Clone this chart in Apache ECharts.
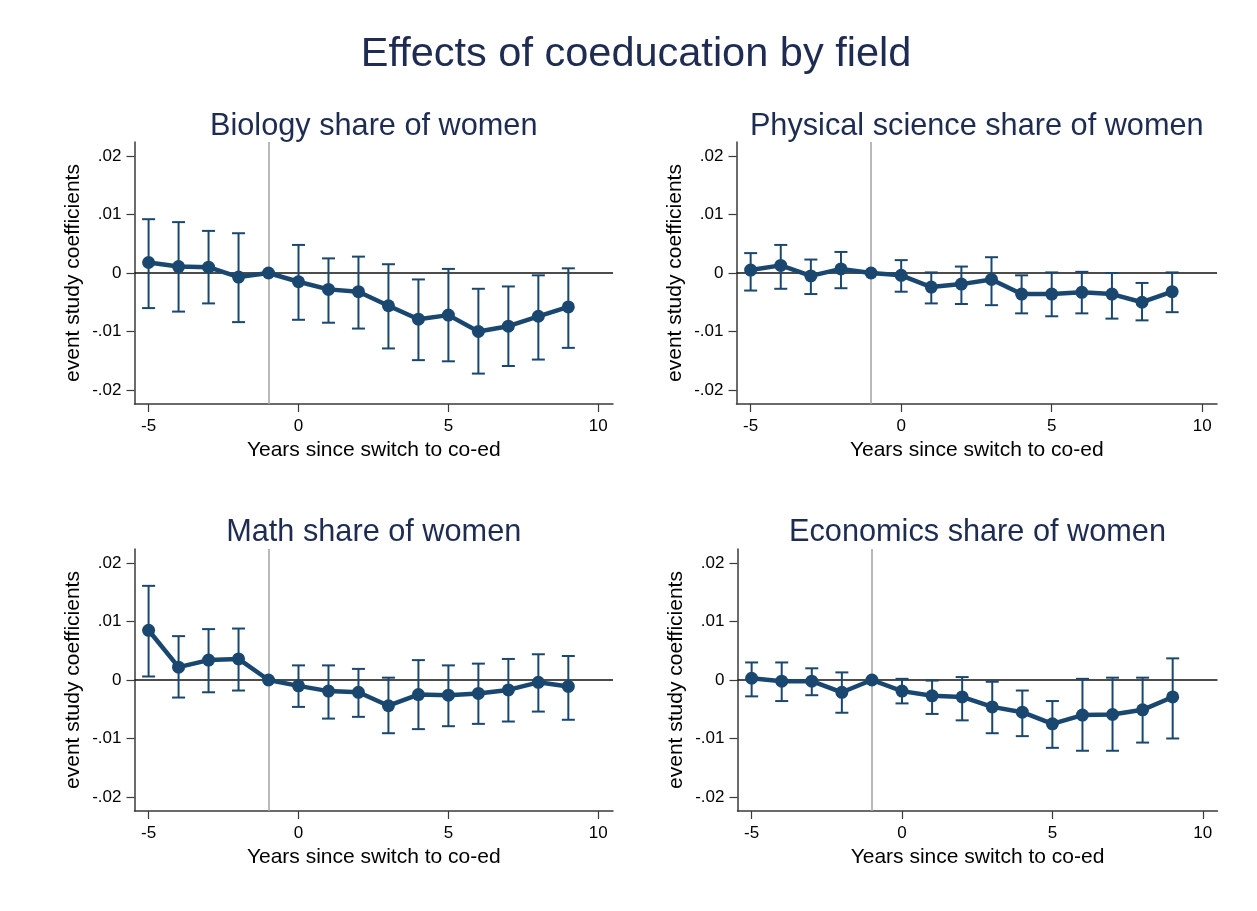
<!DOCTYPE html>
<html>
<head>
<meta charset="utf-8">
<title>Effects of coeducation by field</title>
<script src="https://cdn.jsdelivr.net/npm/echarts@6/dist/echarts.min.js"></script>
<style>
  html, body { margin: 0; padding: 0; background: #ffffff; }
  #chart { width: 1257px; height: 911px; }
</style>
</head>
<body>
<div id="chart"></div>
<script>
// Event-study years relative to the switch to coeducation (-1 is the omitted year)
const years = [-5, -4, -3, -2, -1, 0, 1, 2, 3, 4, 5, 6, 7, 8, 9];
const xTicks = [-5, 0, 5, 10];
const yTicks = [-0.02, -0.01, 0, 0.01, 0.02];

// Biology share of women
const bioCoef = [0.0018, 0.0011, 0.0010, -0.0007, 0, -0.0015, -0.0028, -0.0032, -0.0056, -0.0079, -0.0072, -0.0100, -0.0091, -0.0074, -0.0058];
const bioHigh = [0.0092, 0.0087, 0.0072, 0.0068, null, 0.0048, 0.0025, 0.0028, 0.0015, -0.0011, 0.0007, -0.0027, -0.0023, -0.0004, 0.0008];
const bioLow  = [-0.0060, -0.0066, -0.0052, -0.0084, null, -0.0080, -0.0085, -0.0095, -0.0129, -0.0149, -0.0151, -0.0172, -0.0159, -0.0148, -0.0128];

// Physical science share of women
const physCoef = [0.0005, 0.0013, -0.0005, 0.0007, 0, -0.0004, -0.0024, -0.0019, -0.0011, -0.0036, -0.0036, -0.0033, -0.0036, -0.0050, -0.0032];
const physHigh = [0.0034, 0.0048, 0.0023, 0.0036, null, 0.0022, 0.0001, 0.0011, 0.0027, -0.0004, 0.0001, 0.0002, 0.0000, -0.0017, 0.0001];
const physLow  = [-0.0030, -0.0027, -0.0036, -0.0026, null, -0.0032, -0.0052, -0.0053, -0.0055, -0.0069, -0.0074, -0.0069, -0.0078, -0.0081, -0.0067];

// Math share of women
const mathCoef = [0.0085, 0.0022, 0.0034, 0.0036, 0, -0.0010, -0.0019, -0.0021, -0.0044, -0.0025, -0.0026, -0.0023, -0.0017, -0.0004, -0.0011];
const mathHigh = [0.0161, 0.0075, 0.0087, 0.0088, null, 0.0025, 0.0025, 0.0019, 0.0004, 0.0034, 0.0025, 0.0028, 0.0036, 0.0044, 0.0041];
const mathLow  = [0.0006, -0.0030, -0.0021, -0.0018, null, -0.0046, -0.0066, -0.0063, -0.0091, -0.0084, -0.0079, -0.0075, -0.0071, -0.0054, -0.0068];

// Economics share of women
const econCoef = [0.0003, -0.0002, -0.0002, -0.0021, 0, -0.0019, -0.0027, -0.0029, -0.0046, -0.0055, -0.0075, -0.0060, -0.0059, -0.0051, -0.0029];
const econHigh = [0.0030, 0.0030, 0.0020, 0.0013, null, 0.0002, -0.0001, 0.0005, -0.0003, -0.0018, -0.0036, 0.0002, 0.0004, 0.0004, 0.0037];
const econLow  = [-0.0028, -0.0036, -0.0026, -0.0056, null, -0.0040, -0.0058, -0.0069, -0.0091, -0.0096, -0.0116, -0.0121, -0.0121, -0.0107, -0.0100];

const panelTitles = [
  'Biology share of women',
  'Physical science share of women',
  'Math share of women',
  'Economics share of women'
];
const panels = [
  { coef: bioCoef, low: bioLow, high: bioHigh },
  { coef: physCoef, low: physLow, high: physHigh },
  { coef: mathCoef, low: mathLow, high: mathHigh },
  { coef: econCoef, low: econLow, high: econHigh }
];

const FONT = "'Liberation Sans', Arial, Helvetica, sans-serif";
const NAVY = '#1a476f';
const TITLE_COLOR = '#1e2c52';
const AXIS_COLOR = '#3a3a3a';

const gridBoxes = [
  { left: 134.5, top: 142, width: 478.5, height: 262 },
  { left: 736.5, top: 142, width: 480.5, height: 262 },
  { left: 134.5, top: 549, width: 478.5, height: 262 },
  { left: 737.5, top: 549, width: 480, height: 262 }
];
const titleTops = [111, 111, 517];
titleTops.push(517);

function fmtY(v) {
  const r = Math.round(v * 1000) / 1000;
  if (r === 0) return '0';
  const s = Math.abs(r).toFixed(2).replace(/^0/, '');
  return (r < 0 ? '-' : '') + s;
}

const title = [{
  text: 'Effects of coeducation by field',
  left: 636,
  textAlign: 'center',
  top: 34,
  padding: 0,
  textStyle: { fontFamily: FONT, fontSize: 41.5, fontWeight: 'normal', color: TITLE_COLOR }
}];
const grid = [];
const xAxis = [];
const yAxis = [];
const series = [];

panels.forEach((p, i) => {
  const g = gridBoxes[i];
  grid.push(Object.assign({ containLabel: false }, g));
  title.push({
    text: panelTitles[i],
    left: g.left + g.width / 2,
    textAlign: 'center',
    top: titleTops[i],
    padding: 0,
    textStyle: { fontFamily: FONT, fontSize: 30.7, fontWeight: 'normal', color: TITLE_COLOR }
  });
  xAxis.push({
    type: 'value',
    gridIndex: i,
    min: -5.47,
    max: 10.49,
    name: 'Years since switch to co-ed',
    nameLocation: 'middle',
    nameGap: 36,
    nameTextStyle: { fontFamily: FONT, fontSize: 21, color: '#000' },
    axisLine: { show: true, onZero: false, lineStyle: { color: AXIS_COLOR, width: 1.5 } },
    axisTick: { show: true, length: 8, customValues: xTicks, lineStyle: { color: AXIS_COLOR, width: 1.2 } },
    axisLabel: { customValues: xTicks, margin: 14, fontFamily: FONT, fontSize: 17, color: '#000' },
    splitLine: { show: false }
  });
  yAxis.push({
    type: 'value',
    gridIndex: i,
    min: -0.0224,
    max: 0.0224,
    name: 'event study coefficients',
    nameLocation: 'middle',
    nameGap: 51,
    nameTextStyle: { fontFamily: FONT, fontSize: 21, color: '#000' },
    axisLine: { show: true, onZero: false, lineStyle: { color: AXIS_COLOR, width: 1.5 } },
    axisTick: { show: true, length: 8, customValues: yTicks, lineStyle: { color: AXIS_COLOR, width: 1.2 } },
    axisLabel: { customValues: yTicks, margin: 13, fontFamily: FONT, fontSize: 17, color: '#000', formatter: fmtY },
    splitLine: { show: false }
  });

  // confidence intervals with caps
  const ciData = [];
  years.forEach((yr, k) => {
    if (p.low[k] != null && p.high[k] != null) ciData.push([yr, p.low[k], p.high[k]]);
  });
  series.push({
    type: 'custom',
    xAxisIndex: i,
    yAxisIndex: i,
    z: 2,
    silent: true,
    data: ciData,
    encode: { x: 0, y: [1, 2] },
    renderItem: function (params, api) {
      const x = api.value(0);
      const lo = api.coord([x, api.value(1)]);
      const hi = api.coord([x, api.value(2)]);
      const cap = 6.5;
      const st = { stroke: NAVY, lineWidth: 2 };
      return {
        type: 'group',
        children: [
          { type: 'line', shape: { x1: lo[0], y1: lo[1], x2: hi[0], y2: hi[1] }, style: st },
          { type: 'line', shape: { x1: hi[0] - cap, y1: hi[1], x2: hi[0] + cap, y2: hi[1] }, style: st },
          { type: 'line', shape: { x1: lo[0] - cap, y1: lo[1], x2: lo[0] + cap, y2: lo[1] }, style: st }
        ]
      };
    },
    markLine: {
      silent: true,
      symbol: ['none', 'none'],
      z: 1,
      label: { show: false },
      data: [
        { yAxis: 0, lineStyle: { color: '#111111', width: 1.6, type: 'solid' } },
        { xAxis: -1, lineStyle: { color: '#a8a8a8', width: 1.6, type: 'solid' } }
      ]
    }
  });

  // point estimates
  series.push({
    type: 'line',
    xAxisIndex: i,
    yAxisIndex: i,
    z: 3,
    silent: true,
    data: years.map((yr, k) => [yr, p.coef[k]]),
    symbol: 'circle',
    symbolSize: 13,
    lineStyle: { color: NAVY, width: 4.5 },
    itemStyle: { color: NAVY },
    animation: false
  });
});

const chart = echarts.init(document.getElementById('chart'), null, { renderer: 'canvas' });
chart.setOption({
  backgroundColor: '#ffffff',
  animation: false,
  title: title,
  grid: grid,
  xAxis: xAxis,
  yAxis: yAxis,
  series: series
});
</script>
</body>
</html>
